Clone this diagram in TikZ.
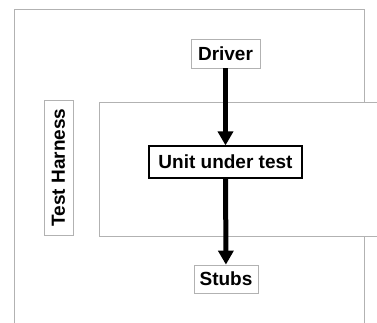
\documentclass[tikz,border=0pt]{standalone}
\usepackage{fontspec}
\setmainfont{Liberation Sans}
\usetikzlibrary{arrows.meta}

\tikzset{
  box/.style={draw=gray!60, fill=white, line width=0.8pt, inner sep=0pt,
    font=\fontsize{19}{22}\selectfont\bfseries},
  flow/.style={line width=5pt, -{Triangle[length=14pt,width=15pt]}}
}

\begin{document}
\begin{tikzpicture}[x=1pt,y=-1pt]
\useasboundingbox (0,0) rectangle (377,322);
\clip (0,0) rectangle (377,322);
\draw[gray!60, line width=0.8pt] (14,9) rectangle (364,340);
\draw[gray!60, line width=0.8pt, fill=white] (99,102) rectangle (390,236);
\node[box, minimum width=69pt, minimum height=29pt] (driver) at (225.5,53.5) {Driver};
\node[box, draw=black, line width=1.2pt, minimum width=153pt, minimum height=32pt] (unit) at (225.5,162) {Unit under test};
\node[box, minimum width=64pt, minimum height=28pt] (stubs) at (226,279) {Stubs};
\node[box, rotate=90, minimum width=135pt, minimum height=29pt] (harness) at (58.5,167.5) {Test Harness};
\draw[flow] (driver) -- (unit);
\draw[flow] (unit) -- (stubs);
\end{tikzpicture}
\end{document}
